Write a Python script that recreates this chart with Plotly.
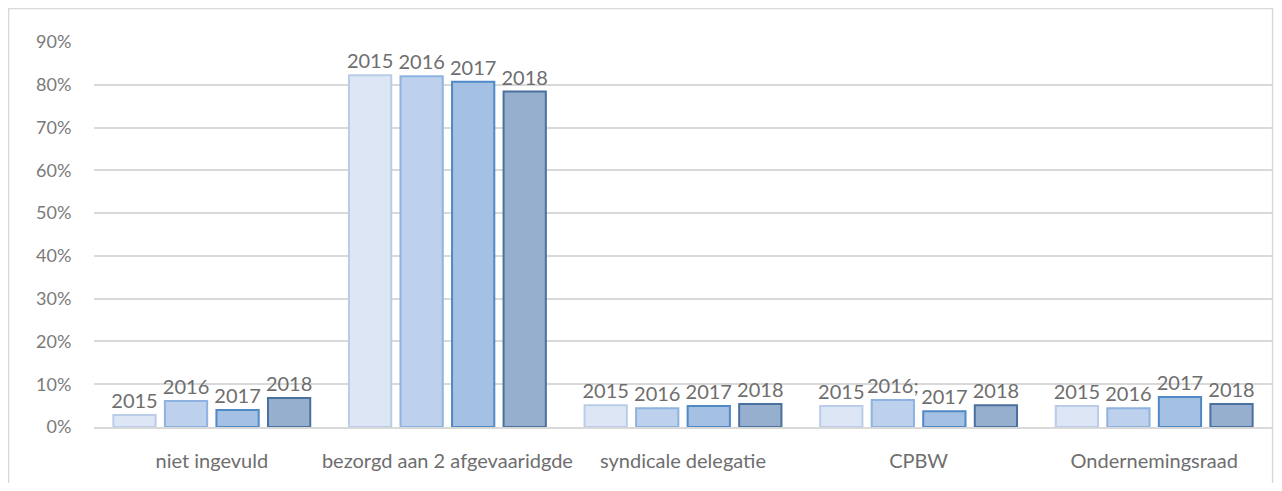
import plotly.graph_objects as go

# ── Data ─────────────────────────────────────────────────────────────────────
categories = [
    "niet ingevuld",
    "bezorgd aan 2 afgevaaridgde",
    "syndicale delegatie",
    "CPBW",
    "Ondernemingsraad",
]
years = ["2015", "2016", "2017", "2018"]
values_2015 = [0.028, 0.822, 0.051, 0.049, 0.049]
values_2016 = [0.061, 0.820, 0.044, 0.063, 0.044]
values_2017 = [0.040, 0.807, 0.049, 0.037, 0.070]
values_2018 = [0.068, 0.784, 0.054, 0.051, 0.054]
series = [values_2015, values_2016, values_2017, values_2018]

labels_2015 = ["2015", "2015", "2015", "2015", "2015"]
labels_2016 = ["2016", "2016", "2016", "2016;", "2016"]
labels_2017 = ["2017", "2017", "2017", "2017", "2017"]
labels_2018 = ["2018", "2018", "2018", "2018", "2018"]
labels = [labels_2015, labels_2016, labels_2017, labels_2018]

y_ticks = [0, 0.1, 0.2, 0.3, 0.4, 0.5, 0.6, 0.7, 0.8, 0.9]

# ── Style ────────────────────────────────────────────────────────────────────
FILL = ["#dce6f4", "#bdd1ec", "#a4c0e2", "#97afcf"]
EDGE = ["#b9cde9", "#8fb3e0", "#4f89c6", "#4a709e"]
TEXT = "#6e6e6e"
TICK = "#7a7a7a"
GRID = "#d9d9d9"
FONT = "Lato, 'Open Sans', sans-serif"

fig = go.Figure()

for year, vals, txt, fill, edge in zip(years, series, labels, FILL, EDGE):
    fig.add_trace(go.Bar(
        name=year,
        x=categories,
        y=vals,
        marker=dict(color=fill, line=dict(color=edge, width=2)),
        text=txt,
        textposition="outside",
        constraintext="none",
        textfont=dict(size=20, color=TEXT, family=FONT),
        cliponaxis=False,
        hovertemplate=f"<b>{year}</b> %{{x}}: %{{y:.1%}}<extra></extra>",
    ))

# Light chart-area border (left, top, right edges of the figure)
fig.add_shape(
    type="rect", xref="paper", yref="paper",
    x0=-0.0725, x1=1.0005, y0=-0.3, y1=1.087,
    line=dict(color="#d9d9d9", width=1.5),
    fillcolor="rgba(0,0,0,0)", layer="below",
)

fig.update_layout(
    width=1266,
    height=475,
    barmode="group",
    bargap=0.125,
    bargroupgap=0.18,
    showlegend=False,
    paper_bgcolor="white",
    plot_bgcolor="white",
    font=dict(family=FONT, color=TEXT, size=16),
    margin=dict(l=86, r=2, t=34, b=56),
    xaxis=dict(
        showgrid=False,
        showline=True,
        linecolor=GRID,
        linewidth=2,
        ticks="outside",
        ticklen=15,
        tickcolor="rgba(0,0,0,0)",
        tickfont=dict(size=20, color=TEXT),
    ),
    yaxis=dict(
        range=[0, 0.9],
        tickvals=y_ticks,
        tickformat=".0%",
        showgrid=True,
        gridcolor=GRID,
        gridwidth=2,
        zeroline=False,
        ticks="outside",
        ticklen=18,
        tickcolor="rgba(0,0,0,0)",
        tickfont=dict(size=18, color=TICK),
    ),
)

fig.write_html("out.html")
